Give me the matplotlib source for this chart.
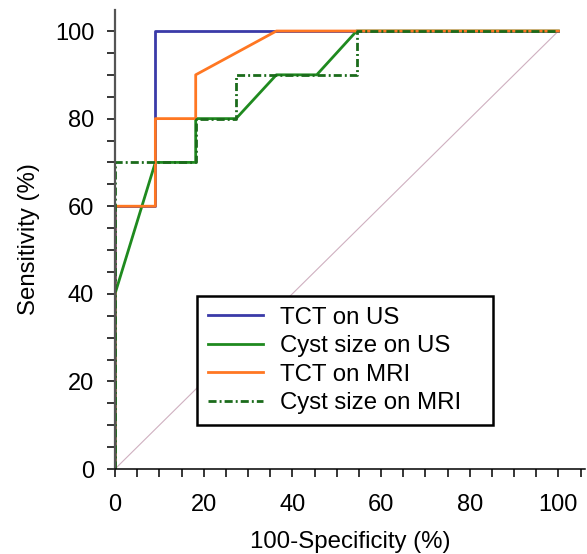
import matplotlib as mp
mp.use("Agg")
mp.rcParams.update({
    "font.family": "sans-serif",
    "font.sans-serif": ["Liberation Sans", "DejaVu Sans"],
    "font.size": 17,
})
import matplotlib.pyplot as plt
from matplotlib.ticker import MultipleLocator

# ROC data (100-specificity, sensitivity)
tct_us_x = [0, 0, 9.1, 9.1, 100]
tct_us_y = [0, 60, 60, 100, 100]

cyst_us_x = [0, 0, 9.1, 18.2, 18.2, 27.3, 36.4, 45.5, 54.5, 100]
cyst_us_y = [0, 40, 70, 70, 80, 80, 90, 90, 100, 100]

tct_mri_x = [0, 0, 9.1, 9.1, 18.2, 18.2, 36.4, 100]
tct_mri_y = [0, 60, 60, 80, 80, 90, 100, 100]

cyst_mri_x = [0, 0, 18.2, 18.2, 27.3, 27.3, 54.5, 54.5, 100]
cyst_mri_y = [0, 70, 70, 80, 80, 90, 90, 100, 100]

ref_x = [0, 100]
ref_y = [0, 100]

W, H = 587, 554
fig = plt.figure(figsize=(W / 100., H / 100.), dpi=100)
ax = fig.add_axes([115. / W, (H - 469.) / H, (585. - 115.) / W, (469. - 10.) / H])

ax.plot(ref_x, ref_y, c="#cfb0c0", lw=0.8)
ax.plot(tct_us_x, tct_us_y, c="#3a3aa8", lw=2.0, label="TCT on US")
ax.plot(cyst_us_x, cyst_us_y, c="#1f8a1f", lw=2.0, label="Cyst size on US")
ax.plot(tct_mri_x, tct_mri_y, c="#ff7722", lw=2.0, label="TCT on MRI")
ax.plot(cyst_mri_x, cyst_mri_y, c="#1b6b1b", lw=2.0,
        dashes=(2.9, 1.1, 0.7, 1.1), label="Cyst size on MRI")

ax.set_xlim(0, 106)
ax.set_ylim(0, 104.8)
ax.xaxis.set_major_locator(MultipleLocator(20))
ax.xaxis.set_minor_locator(MultipleLocator(5))
ax.yaxis.set_major_locator(MultipleLocator(20))
ax.yaxis.set_minor_locator(MultipleLocator(5))
ax.tick_params(which="both", direction="out", length=6, width=1.1, color="black")
ax.tick_params(axis="x", pad=12)
ax.tick_params(axis="y", pad=9)

for s in ["top", "right"]:
    ax.spines[s].set_visible(False)
ax.spines["left"].set_color("#555555")
ax.spines["left"].set_linewidth(1.6)
ax.spines["bottom"].set_linewidth(1.1)

ax.set_xlabel("100-Specificity (%)", fontsize=17.3, labelpad=11)
ax.set_ylabel("Sensitivity (%)", fontsize=17.3, labelpad=11)

leg = ax.legend(loc="upper left", bbox_to_anchor=(197. / W, 1 - 296. / H, 296. / W, 0),
                bbox_transform=fig.transFigure, mode="expand", borderaxespad=0,
                fontsize=17.3, handlelength=2.3, handletextpad=0.7, borderpad=0.45,
                labelspacing=0.27, fancybox=False, framealpha=1)
leg.get_frame().set_edgecolor("black")
leg.get_frame().set_linewidth(1.8)

fig.savefig("out.png", dpi=100)
